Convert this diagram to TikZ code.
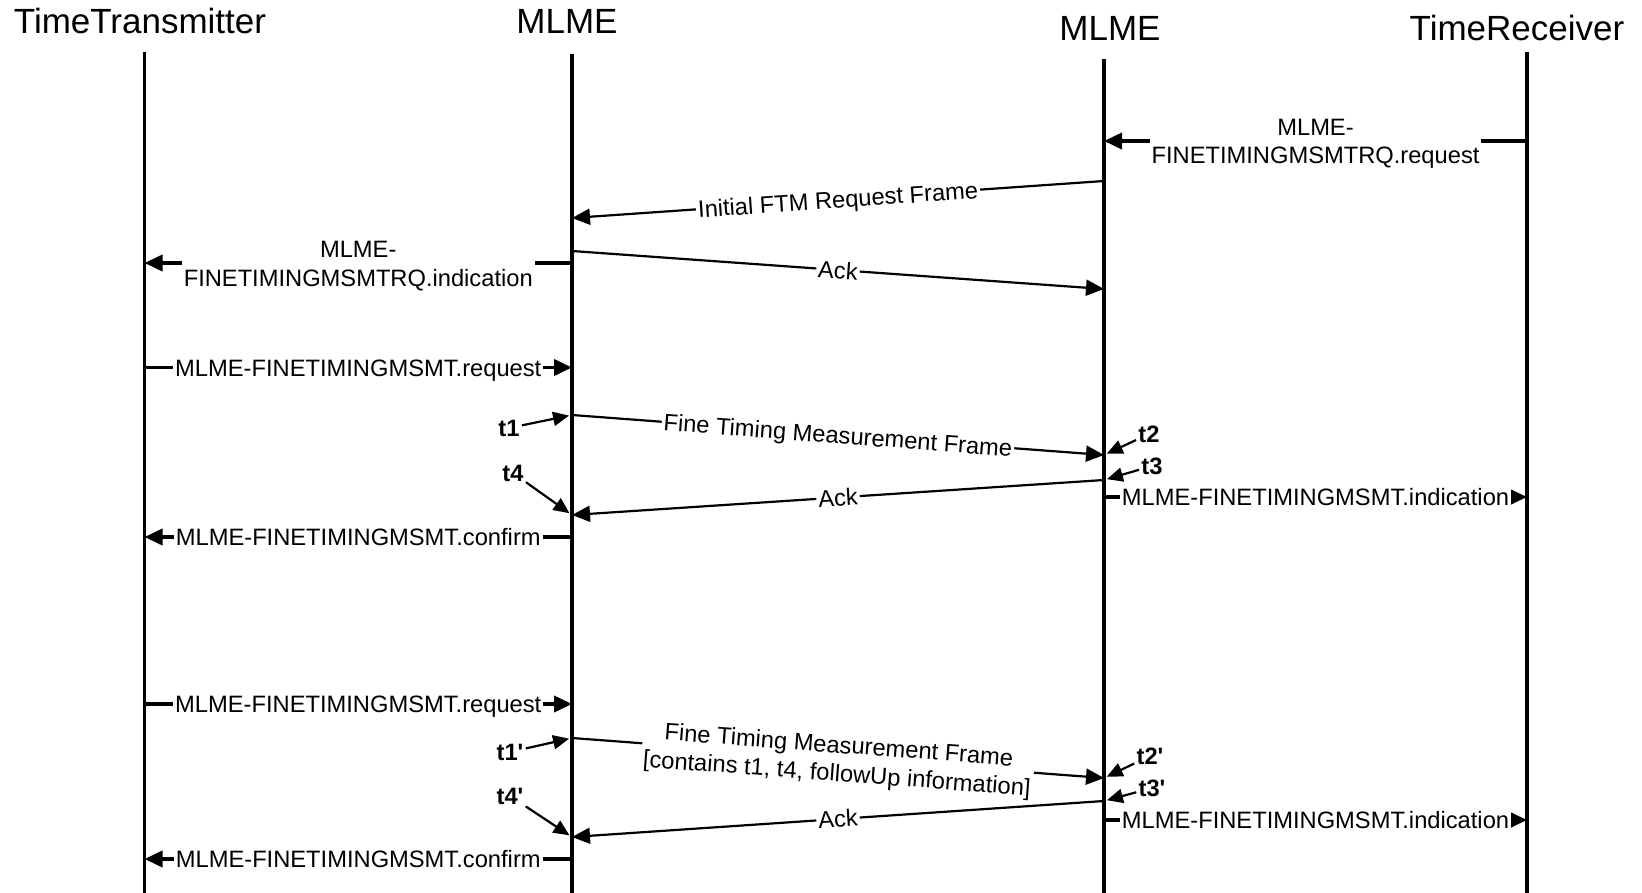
\documentclass[tikz,border=0pt]{standalone}
\usepackage{fontspec}
\setmainfont{Liberation Sans}
\usetikzlibrary{arrows.meta,positioning}

\newcommand{\msgfont}{\fontsize{11.85}{14.2}\selectfont}
\newcommand{\headfont}{\fontsize{17.5}{21}\selectfont}

\begin{document}
\begin{tikzpicture}[x=0.5pt,y=-0.5pt,>={Triangle[length=9pt,width=8pt]},
    every node/.style={font=\msgfont},
    head/.style={font=\headfont,anchor=base,inner sep=0pt},
    life/.style={line width=1.8pt},
    prim/.style={->,line width=1.9pt},
    frame/.style={->,line width=1.1pt},
    stamp/.style={->,line width=1.1pt,>={Triangle[length=8pt,width=7pt]},shorten >=1.5pt},
    lbl/.style={fill=white,inner sep=1pt,text height=8.5pt,text depth=0pt},
    lbltwo/.style={fill=white,inner sep=1pt,align=center,yshift=-1.5pt},
    tlbl/.style={font=\msgfont\bfseries,inner sep=1pt}]
    \useasboundingbox (0,0) rectangle (1642,893);

    \node[head] (tx) at (140,34)  {TimeTransmitter};
    \node[head] (ml) at (567,34)  {MLME};
    \node[head] (mr) at (1110,41) {MLME};
    \node[head] (rx) at (1517,41) {TimeReceiver};

    \coordinate (A) at (144.5,52);  \coordinate (Aend) at (144.5,895);
    \coordinate (B) at (572,54);    \coordinate (Bend) at (572,895);
    \coordinate (C) at (1104,59);   \coordinate (Cend) at (1104,895);
    \coordinate (D) at (1527,52);   \coordinate (Dend) at (1527,895);
    \draw[life] (A) -- (Aend);
    \draw[life] (B) -- (Bend);
    \draw[life] (C) -- (Cend);
    \draw[life] (D) -- (Dend);

    \coordinate (d1)  at (1527,141);  \coordinate (c1)  at (1104,141);
    \coordinate (c2)  at (1104,181);  \coordinate (b2)  at (572,218);
    \coordinate (b3)  at (572,263);   \coordinate (a3)  at (144.5,263);
    \coordinate (b4)  at (572,251);   \coordinate (c4)  at (1104,289);
    \coordinate (a5)  at (144.5,367.5); \coordinate (b5) at (572,367.5);
    \coordinate (b6)  at (572,415);   \coordinate (c6)  at (1104,455);
    \coordinate (c7)  at (1104,480);  \coordinate (b7)  at (572,515);
    \coordinate (c8)  at (1104,497);  \coordinate (d8)  at (1527,497);
    \coordinate (b9)  at (572,537);   \coordinate (a9)  at (144.5,537);
    \coordinate (a10) at (144.5,704); \coordinate (b10) at (572,704);
    \coordinate (b11) at (572,738);   \coordinate (c11) at (1104,778);
    \coordinate (c12) at (1104,801);  \coordinate (b12) at (572,837);
    \coordinate (c13) at (1104,820);  \coordinate (d13) at (1527,820);
    \coordinate (b14) at (572,859);   \coordinate (a14) at (144.5,859);

    \draw[prim]  (d1)  -- node[lbltwo] {MLME-\\FINETIMINGMSMTRQ.request} (c1);
    \draw[frame] (c2)  -- node[lbl,sloped] {Initial FTM Request Frame} (b2);
    \draw[prim]  (b3)  -- node[lbltwo] {MLME-\\FINETIMINGMSMTRQ.indication} (a3);
    \draw[frame] (b4)  -- node[lbl,sloped] {Ack} (c4);
    \draw[prim]  (a5)  -- node[lbl] {MLME-FINETIMINGMSMT.request} (b5);
    \draw[frame] (b6)  -- node[lbl,sloped] {Fine Timing Measurement Frame} (c6);
    \draw[frame] (c7)  -- node[lbl,sloped] {Ack} (b7);
    \draw[prim]  (c8)  -- node[lbl] {MLME-FINETIMINGMSMT.indication} (d8);
    \draw[prim]  (b9)  -- node[lbl] {MLME-FINETIMINGMSMT.confirm} (a9);
    \draw[prim]  (a10) -- node[lbl] {MLME-FINETIMINGMSMT.request} (b10);
    \draw[frame] (b11) -- node[lbltwo,sloped] {Fine Timing Measurement Frame\\{[}contains t1, t4, followUp information{]}} (c11);
    \draw[frame] (c12) -- node[lbl,sloped] {Ack} (b12);
    \draw[prim]  (c13) -- node[lbl] {MLME-FINETIMINGMSMT.indication} (d13);
    \draw[prim]  (b14) -- node[lbl] {MLME-FINETIMINGMSMT.confirm} (a14);

    \node[tlbl] (t1)  at (509,428)  {t1};
    \node[tlbl] (t4)  at (513,473)  {t4};
    \node[tlbl] (t2)  at (1149,434) {t2};
    \node[tlbl] (t3)  at (1152,466) {t3};
    \node[tlbl] (t1p) at (510,752)  {t1\textquotesingle};
    \node[tlbl] (t4p) at (510,796)  {t4\textquotesingle};
    \node[tlbl] (t2p) at (1150,756) {t2\textquotesingle};
    \node[tlbl] (t3p) at (1152,788) {t3\textquotesingle};

    \draw[stamp] (t1)  -- (b6);
    \draw[stamp] (t4)  -- (b7);
    \draw[stamp] (t2)  -- (c6);
    \draw[stamp] (t3)  -- (c7);
    \draw[stamp] (t1p) -- (b11);
    \draw[stamp] (t4p) -- (b12);
    \draw[stamp] (t2p) -- (c11);
    \draw[stamp] (t3p) -- (c12);
\end{tikzpicture}
\end{document}
